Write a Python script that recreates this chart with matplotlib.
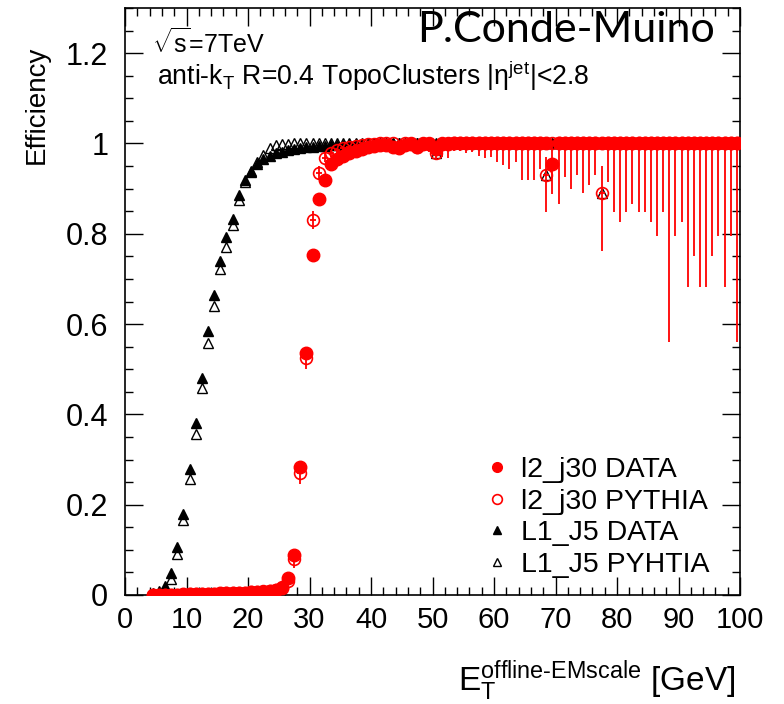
import numpy as np
import matplotlib.pyplot as plt
from matplotlib.lines import Line2D

# %% Fonts (ROOT style -> Helvetica-like)
plt.rcParams['font.family'] = ['Liberation Sans', 'DejaVu Sans']
plt.rcParams['mathtext.fontset'] = 'custom'
plt.rcParams['mathtext.rm'] = 'Liberation Sans'
plt.rcParams['mathtext.it'] = 'Liberation Sans:italic'
plt.rcParams['mathtext.bf'] = 'Liberation Sans:bold'
plt.rcParams['mathtext.sf'] = 'Liberation Sans'

# %% Data: 1 GeV bins, centres 4.5 ... 99.5
et_centres = np.arange(4.5, 100.0, 1.0)

# l2_j30 efficiency in data
l2_data = [
    0.0, 0.0, 0.001, 0.001, 0.001, 0.002, 0.002, 0.002, 0.003, 0.003,
    0.003, 0.004, 0.004, 0.004, 0.005, 0.005, 0.006, 0.006, 0.007, 0.008,
    0.010, 0.016, 0.037, 0.089, 0.283, 0.536, 0.754, 0.878, 0.920, 0.955,
    0.965, 0.972, 0.978, 0.984, 0.988, 0.992, 0.994, 0.996, 0.997, 0.993,
    0.990, 0.997, 0.998, 0.993, 0.998, 0.999, 0.988, 0.998, 0.999, 1.0,
    1.0, 1.0, 1.0, 1.0, 1.0, 1.0, 1.0, 1.0, 1.0, 1.0,
    1.0, 1.0, 1.0, 1.0, 1.0, 0.955, 1.0, 1.0, 1.0, 1.0,
    1.0, 1.0, 1.0, 1.0, 1.0, 1.0, 1.0, 1.0, 1.0, 1.0,
    1.0, 1.0, 1.0, 1.0, 1.0, 1.0, 1.0, 1.0, 1.0, 1.0,
    1.0, 1.0, 1.0, 1.0, 1.0, 1.0,
]

# l2_j30 efficiency in PYTHIA
l2_mc = [
    0.0, 0.0, 0.0, 0.001, 0.001, 0.001, 0.002, 0.002, 0.002, 0.003,
    0.003, 0.003, 0.004, 0.004, 0.005, 0.005, 0.006, 0.007, 0.008, 0.009,
    0.012, 0.018, 0.030, 0.080, 0.270, 0.525, 0.830, 0.934, 0.968, 0.978,
    0.985, 0.990, 0.993, 0.995, 0.997, 0.998, 0.999, 1.0, 1.0, 1.0,
    0.992, 1.0, 1.0, 0.992, 1.0, 1.0, 0.978, 1.0, 1.0, 1.0,
    1.0, 1.0, 1.0, 1.0, 1.0, 1.0, 1.0, 1.0, 1.0, 1.0,
    1.0, 1.0, 1.0, 1.0, 0.931, 1.0, 1.0, 1.0, 1.0, 1.0,
    1.0, 1.0, 1.0, 0.890, 1.0, 1.0, 1.0, 1.0, 1.0, 1.0,
    1.0, 1.0, 1.0, 1.0, 1.0, 1.0, 1.0, 1.0, 1.0, 1.0,
    1.0, 1.0, 1.0, 1.0, 1.0, 1.0,
]

# lower / upper uncertainties on the PYTHIA l2_j30 efficiency
l2_mc_err_lo = [
    0.001, 0.001, 0.001, 0.001, 0.001, 0.001, 0.001, 0.001, 0.001, 0.001,
    0.002, 0.002, 0.002, 0.002, 0.002, 0.002, 0.002, 0.002, 0.002, 0.002,
    0.004, 0.006, 0.010, 0.020, 0.025, 0.025, 0.020, 0.015, 0.010, 0.008,
    0.006, 0.005, 0.004, 0.004, 0.003, 0.003, 0.004, 0.005, 0.006, 0.007,
    0.008, 0.008, 0.010, 0.012, 0.014, 0.018, 0.013, 0.030, 0.032, 0.017,
    0.017, 0.022, 0.020, 0.028, 0.033, 0.030, 0.040, 0.047, 0.057, 0.040,
    0.080, 0.080, 0.080, 0.057, 0.083, 0.111, 0.134, 0.074, 0.100, 0.070,
    0.110, 0.092, 0.070, 0.128, 0.085, 0.152, 0.174, 0.152, 0.134, 0.152,
    0.152, 0.174, 0.204, 0.152, 0.439, 0.204, 0.174, 0.317, 0.250, 0.317,
    0.317, 0.250, 0.204, 0.317, 0.204, 0.439,
]
l2_mc_err_hi = [
    0.001, 0.001, 0.001, 0.001, 0.001, 0.001, 0.001, 0.001, 0.001, 0.001,
    0.002, 0.002, 0.002, 0.002, 0.002, 0.002, 0.002, 0.002, 0.002, 0.002,
    0.004, 0.006, 0.010, 0.020, 0.025, 0.025, 0.020, 0.015, 0.010, 0.008,
    0.006, 0.005, 0.004, 0.003, 0.002, 0.001, 0.001, 0.0, 0.0, 0.0,
    0.005, 0.0, 0.0, 0.005, 0.0, 0.0, 0.012, 0.0, 0.0, 0.0,
    0.0, 0.0, 0.0, 0.0, 0.0, 0.0, 0.0, 0.0, 0.0, 0.0,
    0.0, 0.0, 0.0, 0.0, 0.040, 0.0, 0.0, 0.0, 0.0, 0.0,
    0.0, 0.0, 0.0, 0.060, 0.0, 0.0, 0.0, 0.0, 0.0, 0.0,
    0.0, 0.0, 0.0, 0.0, 0.0, 0.0, 0.0, 0.0, 0.0, 0.0,
    0.0, 0.0, 0.0, 0.0, 0.0, 0.0,
]

# L1_J5 efficiency in data
l1_data = [
    0.004, 0.008, 0.020, 0.048, 0.107, 0.180, 0.278, 0.380, 0.480, 0.585,
    0.664, 0.740, 0.793, 0.833, 0.885, 0.920, 0.937, 0.955, 0.965, 0.972,
    0.978, 0.982, 0.985, 0.988, 0.990, 0.992, 0.993, 0.994, 0.995, 0.996,
    0.997, 0.997, 0.998, 0.998, 0.999, 0.999, 1.0, 1.0, 1.0, 1.0,
    1.0, 1.0, 1.0, 1.0, 1.0, 1.0, 1.0, 1.0, 1.0, 1.0,
    1.0, 1.0, 1.0, 1.0, 1.0, 1.0, 1.0, 1.0, 1.0, 1.0,
    1.0, 1.0, 1.0, 1.0, 1.0, 1.0, 1.0, 1.0, 1.0, 1.0,
    1.0, 1.0, 1.0, 1.0, 1.0, 1.0, 1.0, 1.0, 1.0, 1.0,
    1.0, 1.0, 1.0, 1.0, 1.0, 1.0, 1.0, 1.0, 1.0, 1.0,
    1.0, 1.0, 1.0, 1.0, 1.0, 1.0,
]

# L1_J5 efficiency in PYTHIA
l1_mc = [
    0.002, 0.005, 0.015, 0.035, 0.091, 0.167, 0.256, 0.356, 0.459, 0.558,
    0.641, 0.722, 0.770, 0.820, 0.874, 0.915, 0.940, 0.960, 0.975, 0.990,
    0.996, 0.998, 0.999, 1.0, 1.0, 1.0, 1.0, 1.0, 1.0, 1.0,
    1.0, 1.0, 1.0, 1.0, 1.0, 1.0, 1.0, 1.0, 1.0, 1.0,
    1.0, 1.0, 1.0, 1.0, 1.0, 1.0, 0.978, 1.0, 1.0, 1.0,
    1.0, 1.0, 1.0, 1.0, 1.0, 1.0, 1.0, 1.0, 1.0, 1.0,
    1.0, 1.0, 1.0, 1.0, 0.931, 1.0, 1.0, 1.0, 1.0, 1.0,
    1.0, 1.0, 1.0, 0.890, 1.0, 1.0, 1.0, 1.0, 1.0, 1.0,
    1.0, 1.0, 1.0, 1.0, 1.0, 1.0, 1.0, 1.0, 1.0, 1.0,
    1.0, 1.0, 1.0, 1.0, 1.0, 1.0,
]

legend_labels = ['l2_j30 DATA', 'l2_j30 PYTHIA', 'L1_J5 DATA', 'L1_J5 PYHTIA']

# %% Plot
fig = plt.figure(figsize=(7.84, 7.04), dpi=100)
ax = fig.add_axes([125 / 784, 1 - 595 / 704, 615 / 784, 587 / 704])

red = '#ff0000'

# L1_J5 first (black triangles), red curves drawn on top
ax.plot(et_centres, l1_data, linestyle='none', marker='^', ms=7.5,
        color='black', mec='black', zorder=3)
ax.plot(et_centres, l1_mc, linestyle='none', marker='^', ms=7.5,
        mfc='none', mec='black', mew=1.0, zorder=3)

ax.errorbar(et_centres, l2_data, xerr=0.5, fmt='o', ms=9, color=red,
            mec=red, elinewidth=1.0, capsize=0, zorder=4)
ax.errorbar(et_centres, l2_mc, xerr=0.5, yerr=[l2_mc_err_lo, l2_mc_err_hi],
            fmt='o', ms=8.5, mfc='none', mec=red, mew=1.2, ecolor=red,
            elinewidth=1.3, capsize=0, zorder=5)

ax.set_xlim(0, 100)
ax.set_ylim(0, 1.3)
ax.set_xticks(np.arange(0, 101, 10))
ax.set_xticks(np.arange(0, 101, 2), minor=True)
ax.set_yticks([0, 0.2, 0.4, 0.6, 0.8, 1, 1.2])
ax.set_yticklabels(['0', '0.2', '0.4', '0.6', '0.8', '1', '1.2'])
ax.set_yticks(np.arange(0, 1.31, 0.05), minor=True)

ax.tick_params(which='both', direction='in', top=True, right=True,
               width=1.0)
ax.tick_params(axis='x', labelsize=21, pad=8)
ax.tick_params(axis='y', labelsize=22, pad=12)
ax.tick_params(which='major', length=13)
ax.tick_params(which='minor', length=6)
for sp in ax.spines.values():
    sp.set_linewidth(1.2)

ax.set_ylabel('Efficiency', fontsize=20)
ax.yaxis.set_label_coords((50 - 125) / 615, 0.835)
ax.set_xlabel(r'E$_{\mathrm{T}}^{\text{offline-EMscale}}$ [GeV]',
              fontsize=24, loc='right')
ax.xaxis.set_label_coords((736 - 125) / 615, -0.108)

# Annotations
ax.text(0.044, 0.923, r'$\sqrt{\mathrm{s}}$=7TeV', transform=ax.transAxes,
        fontsize=18, va='baseline')
ax.text(0.052, 0.869,
        r'anti-k$_{\mathrm{T}}$ R=0.4 TopoClusters |$\mathrm{\eta}^{\mathrm{jet}}$|<2.8',
        transform=ax.transAxes, fontsize=19.2, va='baseline')
fig.text(715 / 784, 1 - 42 / 704, 'P.Conde-Muino', fontsize=31,
         family=['Lato', 'DejaVu Sans'], ha='right', va='baseline')

# Legend
handles = [
    Line2D([], [], linestyle='none', marker='o', ms=7, color=red),
    Line2D([], [], linestyle='none', marker='o', ms=7, mfc='none', mec=red, mew=1.2),
    Line2D([], [], linestyle='none', marker='^', ms=6, color='black'),
    Line2D([], [], linestyle='none', marker='^', ms=6, mfc='none', mec='black', mew=1.0),
]
ax.legend(handles, legend_labels, loc='upper left',
          bbox_to_anchor=((483 - 125) / 615, (595 - 457) / 587),
          frameon=False, fontsize=20.5, handlelength=1.0, handletextpad=0.35,
          labelspacing=0.2, borderpad=0, borderaxespad=0)

fig.savefig('out.png', dpi=100)
